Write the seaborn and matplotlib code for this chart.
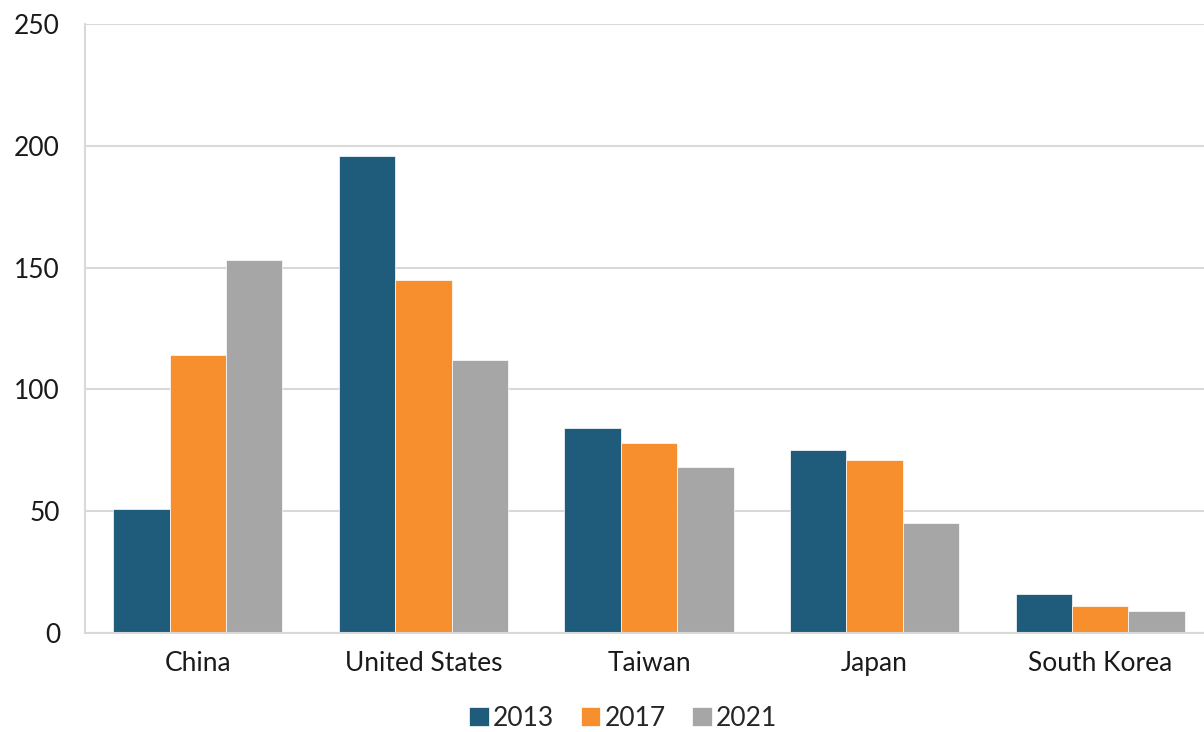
import pandas as pd
import matplotlib
matplotlib.use("Agg")
import matplotlib.pyplot as plt
import seaborn as sns

# data
countries = ["China", "United States", "Taiwan", "Japan", "South Korea"]
years = ["2013", "2017", "2021"]
vals_2013 = [51, 196, 84, 75, 16]
vals_2017 = [114, 145, 78, 71, 11]
vals_2021 = [153, 112, 68, 45, 9]
colors = ["#1F5B7A", "#F78F2E", "#A6A6A6"]

df = pd.DataFrame({
    "Country": countries * 3,
    "Year": [y for y in years for _ in countries],
    "Value": vals_2013 + vals_2017 + vals_2021,
})

sns.set_style("white")
plt.rcParams["font.family"] = ["Lato", "DejaVu Sans"]

fig = plt.figure(figsize=(12.04, 7.32), dpi=100)
ax = fig.add_axes([85 / 1204, 99 / 732, 1128 / 1204, 609 / 732])

sns.barplot(data=df, x="Country", y="Value", hue="Year", palette=colors,
            width=0.75, saturation=1, errorbar=None, ax=ax, legend=True,
            linewidth=0.5, edgecolor="white")

ax.set_ylim(0, 250)
ax.set_xlim(-0.5, 4.5)
ax.set_yticks(range(0, 251, 50))
ax.yaxis.grid(True, color="#D9D9D9", linewidth=1.5)
ax.set_axisbelow(True)
ax.set_xlabel("")
ax.set_ylabel("")

for s in ["top", "right"]:
    ax.spines[s].set_visible(False)
for s in ["left", "bottom"]:
    ax.spines[s].set_color("#D9D9D9")
    ax.spines[s].set_linewidth(1.5)

ax.tick_params(axis="y", length=6, color="#D9D9D9", width=1.5, pad=12,
               labelsize=19, labelcolor="#1a1a1a")
ax.tick_params(axis="x", length=0, pad=13, labelsize=19, labelcolor="#1a1a1a")

handles, labels = ax.get_legend_handles_labels()
ax.get_legend().remove()
fig.legend(handles, labels, loc="center", bbox_to_anchor=(623 / 1204, 14 / 732),
           ncol=3, frameon=False, fontsize=19, handlelength=0.75, handleheight=0.75,
           handletextpad=0.15, columnspacing=1.0, borderpad=0.1)

fig.savefig("out.png", dpi=100)
